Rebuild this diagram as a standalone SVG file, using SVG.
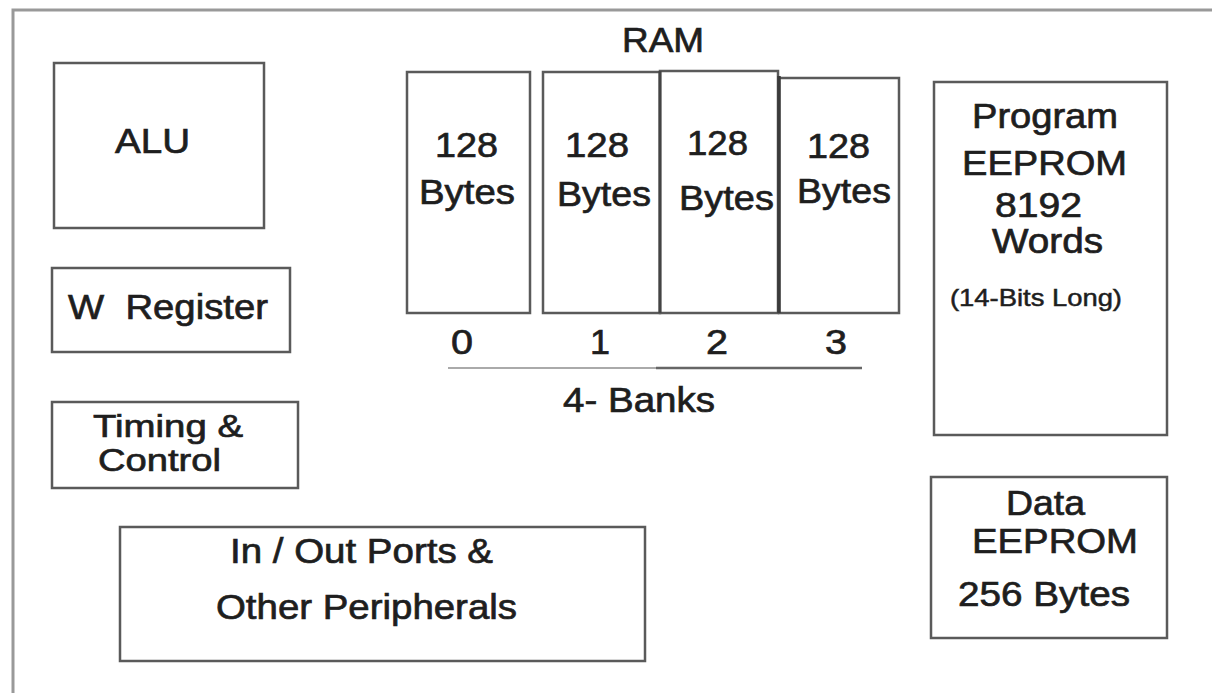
<svg xmlns="http://www.w3.org/2000/svg" width="1212" height="693" viewBox="0 0 1212 693">
<style>
.box{fill:#fff;stroke:#5a5a5a;stroke-width:2.5}
.frame{fill:none;stroke:#999;stroke-width:3}
text{font-family:"Liberation Sans",Arial,sans-serif;fill:#1e1e1e;stroke:#1e1e1e;stroke-width:0.7;font-size:35px;text-anchor:start}
.s{font-size:24px;stroke-width:0.5}
.m{font-size:32px}
</style>
<rect width="1212" height="693" fill="#fff"/>
<path class="frame" d="M13 700 V10 H1220"/>
<g id="alu"><rect class="box" x="54" y="63" width="210" height="165"/><text x="115" y="153" textLength="75" lengthAdjust="spacingAndGlyphs">ALU</text></g>
<g id="wreg"><rect class="box" x="52" y="268" width="238" height="84"/><text x="68" y="319" xml:space="preserve" textLength="200" lengthAdjust="spacingAndGlyphs">W  Register</text></g>
<g id="timing"><rect class="box" x="52" y="402" width="246" height="86"/><text class="m" x="93" y="437" textLength="150" lengthAdjust="spacingAndGlyphs">Timing &amp;</text><text class="m" x="98" y="471" textLength="123" lengthAdjust="spacingAndGlyphs">Control</text></g>
<g id="io"><rect class="box" x="120" y="527" width="525" height="134"/><text x="230" y="563" textLength="263" lengthAdjust="spacingAndGlyphs">In / Out Ports &amp;</text><text x="216" y="619" textLength="301" lengthAdjust="spacingAndGlyphs">Other Peripherals</text></g>
<g id="ram">
<text x="622" y="52" textLength="82" lengthAdjust="spacingAndGlyphs">RAM</text>
<g id="bank0"><rect class="box" x="407" y="72" width="123" height="241"/><text x="435" y="157" textLength="63" lengthAdjust="spacingAndGlyphs">128</text><text x="419" y="204" textLength="96" lengthAdjust="spacingAndGlyphs">Bytes</text></g>
<g id="bank1"><rect class="box" x="543" y="72" width="117" height="241"/><text x="565" y="157" textLength="64" lengthAdjust="spacingAndGlyphs">128</text><text x="557" y="206" textLength="94" lengthAdjust="spacingAndGlyphs">Bytes</text></g>
<g id="bank2"><rect class="box" x="660" y="71" width="118" height="242"/><line x1="660" y1="71" x2="660" y2="313" stroke="#444" stroke-width="3"/><text x="687" y="155" textLength="61" lengthAdjust="spacingAndGlyphs">128</text><text x="679" y="210" textLength="95" lengthAdjust="spacingAndGlyphs">Bytes</text></g>
<g id="bank3"><rect class="box" x="779" y="78" width="120" height="235"/><line x1="779" y1="76" x2="779" y2="313" stroke="#3a3a3a" stroke-width="3.5"/><text x="807" y="158" textLength="63" lengthAdjust="spacingAndGlyphs">128</text><text x="797" y="203" textLength="94" lengthAdjust="spacingAndGlyphs">Bytes</text></g>
<text x="451" y="354" textLength="22" lengthAdjust="spacingAndGlyphs">0</text>
<text x="590" y="354" textLength="20" lengthAdjust="spacingAndGlyphs">1</text>
<text x="706" y="354" textLength="22" lengthAdjust="spacingAndGlyphs">2</text>
<text x="825" y="354" textLength="22" lengthAdjust="spacingAndGlyphs">3</text>
<line x1="448" y1="368" x2="656" y2="368" stroke="#aaa" stroke-width="2"/>
<line x1="656" y1="368" x2="862" y2="368" stroke="#666" stroke-width="2.5"/>
<text x="563" y="412" textLength="152" lengthAdjust="spacingAndGlyphs">4- Banks</text>
</g>
<g id="prog"><rect class="box" x="934" y="82" width="233" height="353"/>
<text x="972" y="128" textLength="146" lengthAdjust="spacingAndGlyphs">Program</text>
<text x="962" y="175" textLength="165" lengthAdjust="spacingAndGlyphs">EEPROM</text>
<text x="995" y="217" textLength="87" lengthAdjust="spacingAndGlyphs">8192</text>
<text x="992" y="253" textLength="111" lengthAdjust="spacingAndGlyphs">Words</text>
<text class="s" x="950" y="306" textLength="172" lengthAdjust="spacingAndGlyphs">(14-Bits Long)</text>
</g>
<g id="data"><rect class="box" x="931" y="477" width="236" height="161"/>
<text x="1006" y="515" textLength="79" lengthAdjust="spacingAndGlyphs">Data</text>
<text x="972" y="553" textLength="166" lengthAdjust="spacingAndGlyphs">EEPROM</text>
<text x="958" y="606" textLength="172" lengthAdjust="spacingAndGlyphs">256 Bytes</text>
</g>
<g id="connectors"/>
</svg>
